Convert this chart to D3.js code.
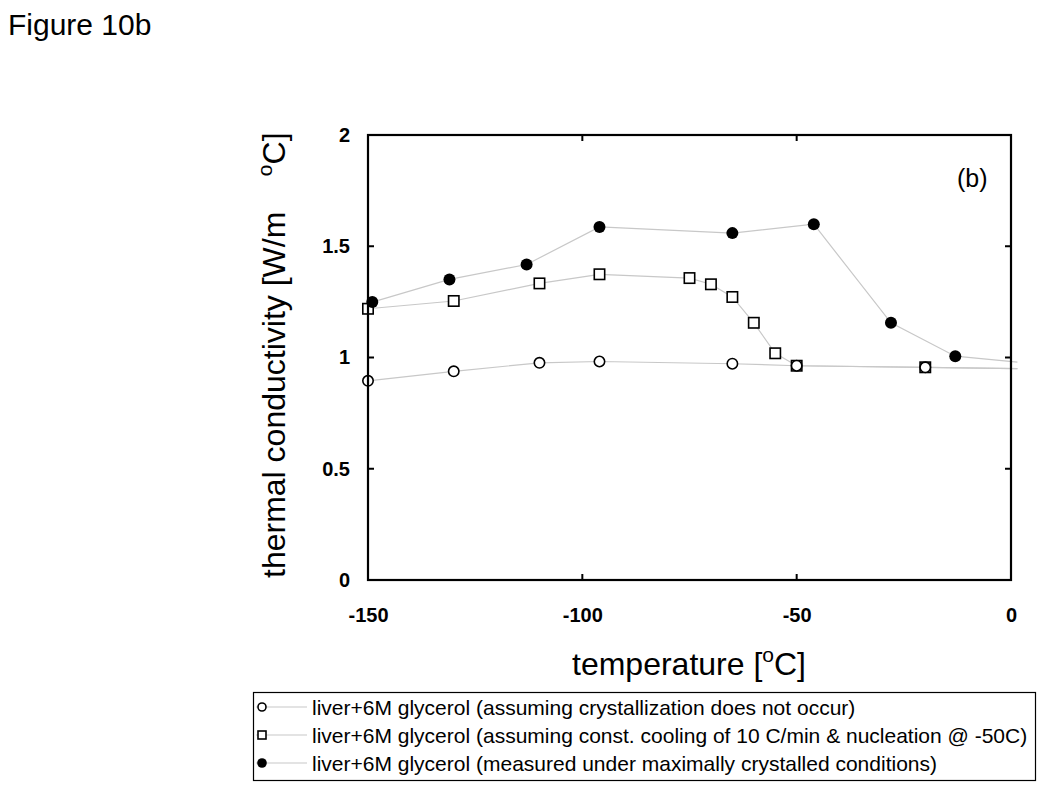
<!DOCTYPE html>
<html>
<head>
<meta charset="utf-8">
<script src="https://cdn.jsdelivr.net/npm/d3@7"></script>
<style>
  body { margin: 0; background: #fff; }
  svg { display: block; font-family: "Liberation Sans", Arial, sans-serif; }
</style>
</head>
<body>
<svg id="chart" width="1050" height="796"></svg>
<script>
// ---- data ----
const xTicks = [-150, -100, -50, 0];
const xTickLabels = ["-150", "-100", "-50", "0"];
const yTicks = [0, 0.5, 1, 1.5, 2];
const yTickLabels = ["0", "0.5", "1", "1.5", "2"];

const noCrystT = [-150, -130, -110, -96, -65, -50, -20, 1.5];
const noCrystK = [0.895, 0.938, 0.976, 0.982, 0.972, 0.963, 0.956, 0.95];

const constCoolT = [-150, -130, -110, -96, -75, -70, -65, -60, -55, -50, -20, 1.5];
const constCoolK = [1.219, 1.254, 1.333, 1.374, 1.357, 1.329, 1.272, 1.156, 1.019, 0.963, 0.956, 0.95];

const measuredT = [-149, -131, -113, -96, -65, -46, -28, -13, 1.5];
const measuredK = [1.249, 1.351, 1.418, 1.587, 1.559, 1.599, 1.156, 1.006, 0.979];

const legendLabels = [
  "liver+6M glycerol (assuming crystallization does not occur)",
  "liver+6M glycerol (assuming const. cooling of 10 C/min & nucleation @ -50C)",
  "liver+6M glycerol (measured under maximally crystalled conditions)"
];
const markerTypes = ["open-circle", "open-square", "filled-circle"];

// ---- layout ----
const FONT = "'Liberation Sans', Arial, sans-serif";
const svg = d3.select("#chart");
const x = d3.scaleLinear().domain([-150, 0]).range([368, 1011]);
const y = d3.scaleLinear().domain([0, 2]).range([580, 135]);

const series = [
  { t: noCrystT, k: noCrystK, m: markerTypes[0] },
  { t: constCoolT, k: constCoolK, m: markerTypes[1] },
  { t: measuredT, k: measuredK, m: markerTypes[2] }
];

// title
svg.append("text").attr("x", 8).attr("y", 35)
  .attr("font-size", 30).attr("fill", "#000").text("Figure 10b");

// lines
const line = d3.line().x(d => x(d[0])).y(d => y(d[1]));
series.forEach(s => {
  const pts = s.t.map((t, i) => [t, s.k[i]]);
  svg.append("path").datum(pts).attr("d", line)
    .attr("fill", "none").attr("stroke", "#c8c8c8").attr("stroke-width", 1.2);
});

function drawMarker(g, type, cx, cy, size) {
  if (type === "open-circle") {
    g.append("circle").attr("cx", cx).attr("cy", cy).attr("r", size)
      .attr("fill", "#fff").attr("stroke", "#000").attr("stroke-width", 1.6);
  } else if (type === "open-square") {
    g.append("rect").attr("x", cx - size).attr("y", cy - size)
      .attr("width", 2 * size).attr("height", 2 * size)
      .attr("fill", "#fff").attr("stroke", "#000").attr("stroke-width", 1.6);
  } else {
    g.append("circle").attr("cx", cx).attr("cy", cy).attr("r", size + 0.8)
      .attr("fill", "#000").attr("stroke", "none");
  }
}

// markers (squares first, then filled, then open circles on top)
[1, 2, 0].forEach(idx => {
  const s = series[idx];
  const g = svg.append("g");
  s.t.forEach((t, i) => {
    if (t <= 0) drawMarker(g, s.m, x(t), y(s.k[i]), 5.2);
  });
});

// frame
svg.append("rect").attr("x", x(-150)).attr("y", y(2))
  .attr("width", x(0) - x(-150)).attr("height", y(0) - y(2))
  .attr("fill", "none").attr("stroke", "#000").attr("stroke-width", 2.2);

// bottom axis labels
const xAxisB = d3.axisBottom(x).tickValues(xTicks).tickSize(0).tickPadding(28)
  .tickFormat((d, i) => xTickLabels[i]);
const gxb = svg.append("g").attr("transform", `translate(0,${y(0)})`).call(xAxisB);
gxb.select(".domain").remove();
gxb.selectAll("text").attr("font-size", 20).attr("font-weight", "bold")
  .attr("font-family", FONT).attr("fill", "#000");
// inward tick marks, bottom and top
xTicks.forEach(v => {
  svg.append("line").attr("x1", x(v)).attr("x2", x(v)).attr("y1", y(0)).attr("y2", y(0) - 6)
    .attr("stroke", "#000").attr("stroke-width", 2);
  svg.append("line").attr("x1", x(v)).attr("x2", x(v)).attr("y1", y(2)).attr("y2", y(2) + 6)
    .attr("stroke", "#000").attr("stroke-width", 2);
});

// left axis labels
const yAxisL = d3.axisLeft(y).tickValues(yTicks).tickSize(0).tickPadding(18)
  .tickFormat((d, i) => yTickLabels[i]);
const gyl = svg.append("g").attr("transform", `translate(${x(-150)},0)`).call(yAxisL);
gyl.select(".domain").remove();
gyl.selectAll("text").attr("font-size", 20).attr("font-weight", "bold")
  .attr("font-family", FONT).attr("fill", "#000");
yTicks.forEach(v => {
  svg.append("line").attr("x1", x(-150)).attr("x2", x(-150) + 6).attr("y1", y(v)).attr("y2", y(v))
    .attr("stroke", "#000").attr("stroke-width", 2);
  svg.append("line").attr("x1", x(0)).attr("x2", x(0) - 6).attr("y1", y(v)).attr("y2", y(v))
    .attr("stroke", "#000").attr("stroke-width", 2);
});

// (b) label
svg.append("text").attr("x", 957).attr("y", 187).attr("font-size", 25)
  .attr("fill", "#000").text("(b)");

// y axis label
const yl = svg.append("text")
  .attr("transform", `translate(285,578) rotate(-90)`)
  .attr("text-anchor", "start").attr("font-size", 32).attr("fill", "#000");
yl.append("tspan").text("thermal conductivity [W/m\u00a0\u00a0\u00a0\u00a0");
yl.append("tspan").attr("font-size", 21).attr("dy", -13).text("o");
yl.append("tspan").attr("dy", 13).text("C]");

// x axis label
const xl = svg.append("text").attr("x", 572).attr("y", 675)
  .attr("text-anchor", "start").attr("font-size", 32).attr("fill", "#000");
xl.append("tspan").text("temperature [");
xl.append("tspan").attr("font-size", 21).attr("dy", -13).text("o");
xl.append("tspan").attr("dy", 13).text("C]");

// legend
const lg = svg.append("g");
lg.append("rect").attr("x", 253.5).attr("y", 692.5).attr("width", 782).attr("height", 88)
  .attr("fill", "#fff").attr("stroke", "#000").attr("stroke-width", 1.2);
legendLabels.forEach((lab, i) => {
  const cy = 707 + i * 28;
  lg.append("line").attr("x1", 256).attr("x2", 307).attr("y1", cy).attr("y2", cy)
    .attr("stroke", "#c8c8c8").attr("stroke-width", 1.2);
  drawMarker(lg, markerTypes[i], 262, cy, 4);
  lg.append("text").attr("x", 312).attr("y", cy + 7.5).attr("font-size", 21)
    .attr("fill", "#000").text(lab);
});
</script>
</body>
</html>
